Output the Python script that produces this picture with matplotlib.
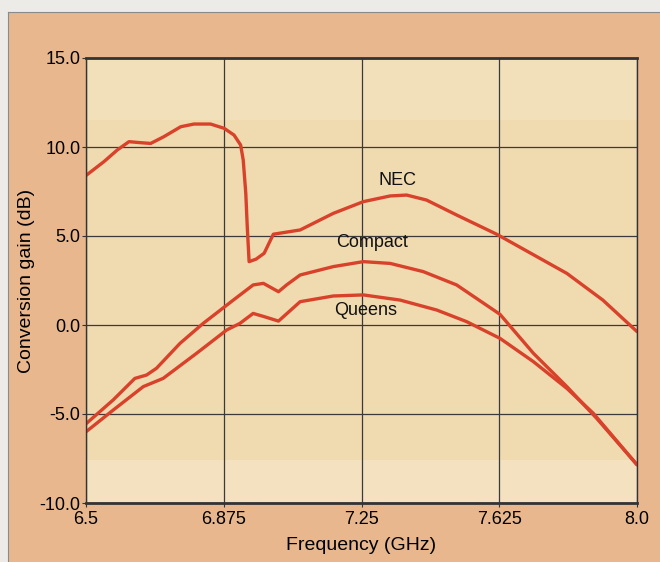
import numpy as np
import matplotlib
matplotlib.use("Agg")
import matplotlib.pyplot as plt
from matplotlib.patches import Rectangle

# values (GHz, dB)
nec_f = [6.5, 6.549, 6.585, 6.617, 6.644, 6.676, 6.712, 6.758, 6.794, 6.839, 6.876,
         6.903, 6.921, 6.928, 6.935, 6.939, 6.944, 6.963, 6.985, 7.010, 7.083, 7.173,
         7.255, 7.328, 7.373, 7.427, 7.509, 7.618, 7.809, 7.907, 8.0]
nec_g = [8.4, 9.18, 9.83, 10.3, 10.25, 10.2, 10.58, 11.14, 11.29, 11.29, 11.05,
         10.67, 10.11, 9.27, 7.40, 5.52, 3.56, 3.70, 4.03, 5.10, 5.34, 6.27,
         6.93, 7.25, 7.30, 7.02, 6.18, 5.10, 2.90, 1.40, -0.37]

compact_f = [6.5, 6.574, 6.633, 6.665, 6.692, 6.756, 6.819, 6.901, 6.955, 6.983, 7.024,
             7.046, 7.083, 7.173, 7.255, 7.328, 7.418, 7.509, 7.627, 7.718, 7.809,
             7.890, 8.0]
compact_g = [-5.55, -4.21, -3.0, -2.81, -2.43, -1.03, 0.09, 1.40, 2.25, 2.34, 1.87,
             2.25, 2.81, 3.28, 3.56, 3.46, 3.0, 2.25, 0.6, -1.59, -3.46,
             -5.24, -7.85]

queens_f = [6.5, 6.574, 6.656, 6.710, 6.801, 6.883, 6.919, 6.955, 6.985, 7.024, 7.083,
            7.173, 7.255, 7.355, 7.455, 7.536, 7.627, 7.718, 7.809, 7.881, 8.0]
queens_g = [-6.0, -4.78, -3.46, -3.0, -1.59, -0.28, 0.09, 0.65, 0.47, 0.22, 1.31,
            1.63, 1.69, 1.40, 0.84, 0.19, -0.75, -2.06, -3.56, -4.96, -7.85]

x_ticks = [6.5, 6.875, 7.25, 7.625, 8.0]
x_labels = ["6.5", "6.875", "7.25", "7.625", "8.0"]
y_ticks = [-10, -5, 0, 5, 10, 15]
y_labels = ["-10.0", "-5.0", "0.0", "5.0", "10.0", "15.0"]

labels = ["NEC", "Compact", "Queens"]
label_pos = [(7.347, 8.09), (7.279, 4.66), (7.262, 0.79)]

plt.rcParams["font.family"] = ["Liberation Sans", "DejaVu Sans"]

fig = plt.figure(figsize=(6.6, 5.62), dpi=100, facecolor="#e9b78d")
# pale page edge at top and left
fig.patches.append(Rectangle((0, 1 - 12 / 562), 1, 12 / 562, transform=fig.transFigure,
                             facecolor="#ecebe8", edgecolor="none", zorder=0))
fig.patches.append(Rectangle((0, 0), 8 / 660, 1, transform=fig.transFigure,
                             facecolor="#ecebe8", edgecolor="none", zorder=0))
fig.add_artist(plt.Line2D([8 / 660, 8 / 660], [0, 1 - 12 / 562], transform=fig.transFigure,
                          color="#8a8a8a", lw=0.8))
fig.add_artist(plt.Line2D([8 / 660, 1], [1 - 12 / 562, 1 - 12 / 562], transform=fig.transFigure,
                          color="#8a8a8a", lw=0.8))

ax = fig.add_axes([86 / 660, 1 - 503 / 562, 551 / 660, 445 / 562])
ax.set_facecolor("#f0dab0")
ax.axhspan(11.5, 15, color="#f2e0bb", zorder=0, lw=0)
ax.axhspan(-10, -7.6, color="#f3e1c0", zorder=0, lw=0)

ax.grid(True, color="#3a3a3a", lw=0.9)
ax.set_axisbelow(True)

red = "#d8422b"
for fx, gy in [(nec_f, nec_g), (compact_f, compact_g), (queens_f, queens_g)]:
    ax.plot(fx, gy, color=red, lw=2.4, solid_capstyle="round", solid_joinstyle="round")

for txt, (lx, ly) in zip(labels, label_pos):
    ax.text(lx, ly, txt, fontsize=13, ha="center", va="center", color="#111111")

ax.set_xlim(6.5, 8.0)
ax.set_ylim(-10, 15)
ax.set_xticks(x_ticks)
ax.set_xticklabels(x_labels)
ax.set_yticks(y_ticks)
ax.set_yticklabels(y_labels)
ax.tick_params(labelsize=13, length=3, color="#333333", pad=1)
ax.tick_params(axis="x", pad=3)

for s in ax.spines.values():
    s.set_color("#333333")
    s.set_linewidth(1.0)
ax.spines["top"].set_linewidth(2.0)
ax.spines["bottom"].set_linewidth(2.0)

ax.set_xlabel("Frequency (GHz)", fontsize=14, labelpad=6)
ax.set_ylabel("Conversion gain (dB)", fontsize=14, labelpad=3)

fig.savefig("out.png", dpi=100, facecolor=fig.get_facecolor())
